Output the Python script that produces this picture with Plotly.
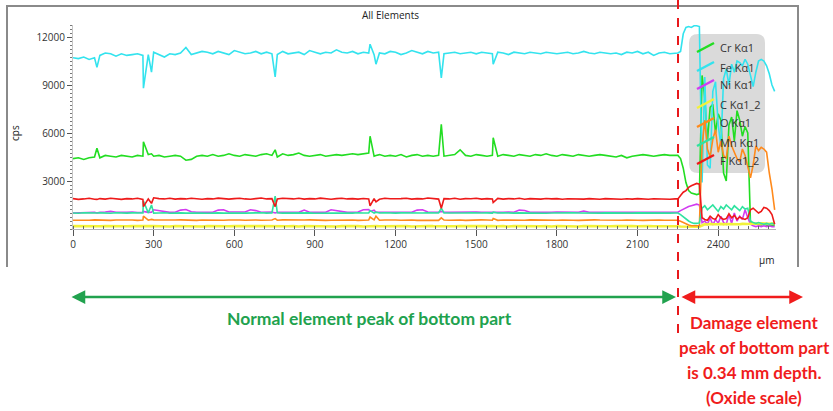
import plotly.graph_objects as go

W, H = 833, 411

# ---------------- data ----------------
SERIES = ["Cr Kα1", "Fe Kα1", "Ni Kα1", "C Kα1_2", "O Kα1", "Mn Kα1", "F Kα1_2"]
COLORS = ["#22dd22", "#33e3ee", "#d23cf0", "#f2f23a", "#ff8a1c", "#2fe3a0", "#ee1a1a"]
WIDTHS = [1.6, 1.6, 1.6, 2.6, 1.6, 1.6, 1.6]

NORMAL_STEP = 20          # µm between samples in the normal zone (0 .. 2240)
SPIKE_X = [89, 262, 292, 752, 1105, 1127, 1370, 1563]
DAMAGE_X = [2250, 2260, 2270, 2280, 2290, 2300, 2310, 2320, 2330, 2340,
            2350, 2360, 2370, 2380, 2390, 2400, 2410, 2420, 2430, 2440,
            2450, 2460, 2470, 2480, 2490, 2500, 2510, 2520, 2530, 2540,
            2550, 2560, 2570, 2580, 2590, 2600, 2610]

X_TICKS = [0, 300, 600, 900, 1200, 1500, 1800, 2100, 2400]
Y_TICKS = [3000, 6000, 9000, 12000]

cr_normal = [4400, 4450, 4350, 4450, 4500, 4450, 4600, 4550, 4500, 4600,
             4550, 4500, 4600, 4550, 4650, 4550, 4600, 4500, 4550, 4600,
             4550, 4300, 4350, 4550, 4600, 4550, 4650, 4550, 4600, 4700,
             4600, 4550, 4650, 4600, 4550, 4650, 4700, 4600, 4500, 4700,
             4600, 4650, 4750, 4600, 4550, 4600, 4650, 4550, 4600, 4650,
             4600, 4650, 4700, 4650, 4700, 4750, 4550, 4650, 4550, 4600,
             4550, 4650, 4500, 4600, 4650, 4550, 4600, 4550, 4600, 4550,
             4600, 4650, 4950, 4600, 4550, 4650, 4600, 4550, 4600, 4550,
             4650, 4600, 4550, 4650, 4600, 4550, 4650, 4600, 4700, 4600,
             4550, 4650, 4600, 4550, 4650, 4600, 4550, 4600, 4650, 4600,
             4550, 4500, 4600, 4450, 4550, 4600, 4650, 4600, 4550, 4600,
             4650, 4600, 4600]
cr_spikes = [5050, 5450, 4700, 4950, 5800, 4600, 6550, 5700]
cr_damage = [4600, 4400, 3800, 2900, 2400, 2250, 2200, 2150, 2200, 9600,
             8200, 5500, 7600, 7800, 6000, 7200, 6800, 3500, 3000, 6500,
             7000, 5500, 7400, 6800, 5800, 6400, 6000, 400, 350, 300,
             300, 250, 300, 250, 200, 250, 200]

fe_normal = [10700, 10650, 10750, 10600, 10700, 10850, 11000, 10950, 10800, 10950,
             10850, 10900, 10950, 10850, 10900, 11050, 10900, 10750, 10950, 10900,
             11000, 11350, 10900, 11000, 11100, 11050, 10950, 11100, 11000, 10900,
             11150, 11050, 10950, 11000, 11100, 10950, 11050, 10950, 10900, 11100,
             10950, 11000, 11050, 10900, 11150, 11050, 10950, 11050, 11000, 11200,
             11050, 11000, 11100, 10950, 11050, 11000, 10900, 11000, 10950, 11100,
             11050, 10900, 11000, 11150, 11050, 10950, 11100, 11000, 11050, 10950,
             11000, 11050, 10950, 11000, 11050, 10950, 11050, 11000, 10950, 11050,
             11000, 10900, 11050, 11000, 10950, 11050, 11000, 10950, 11050, 11000,
             10950, 11000, 11050, 10950, 11000, 11100, 11000, 10950, 11050, 11000,
             10950, 11000, 10900, 11050, 11000, 11100, 10950, 11050, 10850, 11000,
             11050, 10950, 11000]
fe_spikes = [10100, 8800, 9800, 9500, 11550, 10300, 9450, 10300]
fe_damage = [11000, 11100, 12200, 12600, 12650, 12600, 12700, 12700, 12650, 2900,
             9500, 4000, 3800, 8600, 9200, 6500, 5200, 9400, 10000, 9000,
             10300, 9800, 10500, 10400, 10200, 10600, 10300, 9600, 8900, 9800,
             10500, 10600, 10500, 10200, 9700, 9000, 8600]

ni_normal = [1000, 1020, 1040, 1030, 1050, 1040, 1060, 1100, 1050, 1030,
             1040, 1060, 1030, 1050, 1040, 1200, 1150, 1060, 1040, 1050,
             1180, 1220, 1080, 1050, 1040, 1060, 1050, 1180, 1200, 1060,
             1050, 1040, 1060, 1200, 1150, 1050, 1040, 1060, 1050, 1040,
             1050, 1060, 1040, 1180, 1050, 1040, 1060, 1050, 1200, 1150,
             1060, 1040, 1050, 1060, 1200, 1220, 1180, 1050, 1040, 1060,
             1050, 1040, 1060, 1050, 1180, 1200, 1060, 1040, 1050, 1060,
             1040, 1050, 1060, 1050, 1040, 1060, 1050, 1040, 1060, 1050,
             1040, 1060, 1050, 1180, 1160, 1050, 1040, 1060, 1050, 1040,
             1060, 1050, 1040, 1060, 1050, 1120, 1050, 1040, 1060, 1050,
             1040, 1060, 1050, 1040, 1060, 1050, 1040, 1060, 1050, 1040,
             1060, 1050, 1040]
ni_spikes = [1000, 1100, 1050, 1000, 1100, 1050, 1100, 1050]
ni_damage = [1050, 1150, 1250, 1350, 1400, 1450, 1500, 1550, 1500, 400,
             500, 300, 700, 250, 600, 350, 800, 400, 300, 900,
             350, 1000, 500, 800, 600, 1200, 700, 300, 200, 150,
             200, 150, 200, 150, 200, 150, 150]

c_normal = [180, 170, 190, 160, 180, 170, 190, 180, 170, 180,
            170, 190, 180, 160, 180, 190, 170, 180, 160, 190,
            180, 170, 190, 180, 160, 180, 170, 190, 180, 170,
            190, 180, 170, 160, 180, 190, 180, 170, 190, 180,
            170, 180, 160, 190, 180, 170, 180, 190, 170, 160,
            180, 190, 170, 180, 160, 180, 190, 170, 180, 190,
            170, 180, 190, 160, 180, 170, 190, 180, 170, 180,
            190, 170, 180, 160, 180, 190, 170, 180, 190, 170,
            180, 160, 190, 180, 170, 180, 190, 170, 180, 160,
            190, 180, 170, 180, 160, 190, 180, 170, 190, 180,
            170, 180, 190, 160, 180, 170, 190, 180, 170, 180,
            170, 180, 170]
c_spikes = [170, 200, 180, 170, 180, 190, 200, 180]
c_damage = [170, 160, 150, 140, 130, 120, 130, 140, 150, 250,
            300, 280, 320, 300, 280, 300, 320, 290, 310, 300,
            320, 300, 280, 300, 320, 300, 310, 330, 350, 340,
            350, 360, 340, 350, 330, 340, 320]

o_normal = [550, 540, 560, 550, 570, 560, 550, 540, 560, 570,
            550, 560, 540, 560, 550, 570, 560, 550, 540, 560,
            570, 550, 560, 540, 560, 550, 570, 560, 550, 560,
            540, 560, 550, 570, 560, 550, 540, 560, 550, 570,
            560, 550, 540, 560, 570, 550, 560, 540, 550, 560,
            570, 550, 560, 540, 550, 560, 570, 550, 560, 540,
            560, 550, 570, 560, 540, 550, 560, 550, 540, 560,
            550, 570, 560, 540, 560, 550, 570, 560, 550, 540,
            560, 550, 540, 560, 550, 570, 560, 540, 550, 560,
            550, 560, 570, 550, 540, 560, 550, 570, 560, 550,
            540, 560, 550, 560, 570, 550, 540, 560, 550, 560,
            550, 560, 550]
o_spikes = [560, 800, 600, 650, 750, 800, 700, 650]
o_damage = [550, 480, 400, 300, 250, 200, 200, 180, 200, 5200,
            6800, 5000, 4500, 5600, 6200, 4800, 5500, 4600, 4400, 5800,
            5200, 4800, 4400, 4200, 5000, 4600, 3800, 3200, 4000, 5200,
            4900, 5100, 5000, 4800, 3500, 2500, 1200]

mn_normal = [1000, 980, 1020, 1000, 990, 1010, 1000, 980, 1020, 1000,
             990, 1010, 1020, 1000, 1010, 990, 1000, 1020, 980, 1000,
             1010, 990, 1000, 1020, 1000, 980, 1000, 1010, 990, 1000,
             1020, 1000, 990, 1010, 1000, 1020, 990, 1000, 1010, 990,
             1000, 1020, 990, 1000, 1010, 980, 1000, 1020, 1000, 990,
             1010, 1000, 990, 1020, 1000, 1010, 990, 1000, 1020, 1000,
             990, 1010, 1000, 980, 1010, 1000, 1020, 990, 1000, 1010,
             1000, 990, 1010, 1000, 1020, 990, 1000, 1010, 990, 1000,
             1020, 1000, 990, 1010, 1000, 990, 1010, 1000, 980, 1000,
             1010, 990, 1000, 1020, 1000, 990, 1010, 1000, 990, 1010,
             1000, 990, 1010, 1000, 990, 1010, 1000, 990, 1000, 1010,
             1000, 990, 1000]
mn_spikes = [1000, 1750, 1500, 2050, 1150, 1050, 1300, 1050]
mn_damage = [1000, 900, 750, 600, 500, 400, 350, 350, 380, 1300,
             1450, 1200, 1350, 1500, 1300, 1100, 1400, 1250, 1500, 1350,
             1200, 1450, 1300, 1150, 1400, 1250, 1300, 500, 400, 350,
             400, 350, 300, 350, 300, 350, 300]

f_normal = [1900, 1850, 1880, 1920, 1860, 1900, 1870, 1920, 1880, 1850,
            1900, 1880, 1920, 1850, 1880, 1950, 1900, 1880, 1920, 1870,
            1900, 1880, 1920, 1900, 1860, 1900, 1880, 1930, 1900, 1870,
            1900, 1920, 1880, 1860, 1900, 1940, 1880, 1900, 1870, 1920,
            1900, 1880, 1920, 1870, 1900, 1880, 1930, 1900, 1860, 1900,
            1920, 1880, 1900, 1870, 1910, 1880, 1900, 1860, 1920, 1890,
            1880, 1900, 1920, 1870, 1900, 1880, 1940, 1900, 1870, 1900,
            1880, 1920, 1860, 1900, 1890, 1920, 1870, 1900, 1880, 1910,
            1870, 1900, 1880, 1920, 1860, 1900, 1890, 1870, 1910, 1880,
            1900, 1860, 1890, 1880, 1910, 1870, 1900, 1880, 1860, 1900,
            1880, 1900, 1860, 1890, 1870, 1900, 1880, 1860, 1890, 1870,
            1880, 1860, 1880]
f_spikes = [1850, 1400, 1600, 1400, 1450, 1700, 1300, 1650]
f_damage = [1880, 2100, 2300, 2400, 2600, 2700, 2800, 2850, 2800, 700,
            600, 550, 800, 650, 600, 900, 700, 600, 650, 950,
            700, 850, 600, 750, 650, 600, 700, 1200, 1300, 1150,
            1000, 1100, 1350, 1300, 1150, 900, 300]

SERIES_DATA = [
    (cr_normal, cr_spikes, cr_damage),
    (fe_normal, fe_spikes, fe_damage),
    (ni_normal, ni_spikes, ni_damage),
    (c_normal, c_spikes, c_damage),
    (o_normal, o_spikes, o_damage),
    (mn_normal, mn_spikes, mn_damage),
    (f_normal, f_spikes, f_damage),
]


def assemble(normal, spikes, damage):
    pts = [(i * NORMAL_STEP, v) for i, v in enumerate(normal)]
    pts += list(zip(SPIKE_X, spikes))
    pts += list(zip(DAMAGE_X, damage))
    pts.sort(key=lambda p: p[0])
    return [p[0] for p in pts], [p[1] for p in pts]


def px(x):
    return x / W


def py(y):
    return 1 - y / H


fig = go.Figure()
for name, color, lw, (nrm, spk, dmg) in zip(SERIES, COLORS, WIDTHS, SERIES_DATA):
    xs, ys = assemble(nrm, spk, dmg)
    fig.add_trace(go.Scatter(x=xs, y=ys, mode="lines", name=name,
                             line=dict(color=color, width=lw),
                             showlegend=False, hoverinfo="skip"))

FONT = "Open Sans"
shapes = []
annotations = []


def label(x, y, text, size, color, family=FONT, xanchor="center", angle=0):
    annotations.append(dict(x=px(x), y=py(y), xref="paper", yref="paper", text=text,
                            showarrow=False, xanchor=xanchor, yanchor="middle", textangle=angle,
                            font=dict(family=family, size=size, color=color)))


# chart frame (left, top, right)
shapes.append(dict(type="path", xref="paper", yref="paper",
                   path=f"M {px(7)},{py(267)} L {px(7)},{py(6)} L {px(798)},{py(6)} L {px(798)},{py(267)}",
                   line=dict(color="#8a8a8a", width=2)))

# rounded legend box
lx0, lx1, ly0, ly1, r = 689, 765, 34, 173, 9
path = (f"M {px(lx0 + r)},{py(ly0)} L {px(lx1 - r)},{py(ly0)} "
        f"Q {px(lx1)},{py(ly0)} {px(lx1)},{py(ly0 + r)} "
        f"L {px(lx1)},{py(ly1 - r)} Q {px(lx1)},{py(ly1)} {px(lx1 - r)},{py(ly1)} "
        f"L {px(lx0 + r)},{py(ly1)} Q {px(lx0)},{py(ly1)} {px(lx0)},{py(ly1 - r)} "
        f"L {px(lx0)},{py(ly0 + r)} Q {px(lx0)},{py(ly0)} {px(lx0 + r)},{py(ly0)} Z")
shapes.append(dict(type="path", xref="paper", yref="paper", path=path, layer="below",
                   fillcolor="#dadada", line=dict(width=0)))

LEG_Y = [48, 67, 85, 104, 123, 142, 160]
for name, color, yc in zip(SERIES, COLORS, LEG_Y):
    shapes.append(dict(type="line", xref="paper", yref="paper",
                       x0=px(697), y0=py(yc + 4), x1=px(714), y1=py(yc - 5),
                       line=dict(color=color, width=2.5)))
    label(718, yc, name, 11, "#333333", xanchor="left")

# red dashed divider
shapes.append(dict(type="line", xref="paper", yref="paper",
                   x0=px(678), x1=px(678), y0=py(0), y1=py(335),
                   line=dict(color="#e8191c", width=2, dash="dash")))

# titles
label(390, 15, "All Elements", 10, "#222")
label(15, 133, "cps", 10, "#222", angle=-90)
label(766, 260, "µm", 10, "#222")

# arrows
GREEN = "#21a24e"
RED = "#f01c1c"
annotations.append(dict(x=px(676), y=py(297), xref="paper", yref="paper", text="",
                        showarrow=True, ax=70 - 676, ay=0, arrowhead=2, arrowside="end+start",
                        arrowsize=1.1, arrowwidth=2.5, arrowcolor=GREEN, standoff=0, startstandoff=0))
annotations.append(dict(x=px(803), y=py(297), xref="paper", yref="paper", text="",
                        showarrow=True, ax=680 - 803, ay=0, arrowhead=2, arrowside="end+start",
                        arrowsize=1.1, arrowwidth=2.5, arrowcolor=RED, standoff=0, startstandoff=0))

label(369, 318, "<b>Normal element peak of bottom part</b>", 17.5, GREEN, family="Lato")
for txt, yy in zip(["Damage element", "peak of bottom part", "is 0.34 mm depth.", "(Oxide scale)"],
                   [322, 347, 372, 397]):
    label(754, yy, f"<b>{txt}</b>", 17, RED, family="Lato")

fig.update_layout(
    width=W, height=H, margin=dict(l=0, r=0, t=0, b=0, autoexpand=False),
    paper_bgcolor="white", plot_bgcolor="rgba(0,0,0,0)", showlegend=False,
    xaxis=dict(domain=[px(73), px(776)], range=[0, 2615], tickvals=X_TICKS,
               ticks="outside", ticklen=6, tickcolor="#555", tickwidth=1,
               showgrid=False, zeroline=False, showline=True, linecolor="#b5b5b5", linewidth=1,
               tickfont=dict(family=FONT, size=10, color="#333"), automargin=False,
               minor=dict(dtick=37.5, tick0=0, ticks="inside", ticklen=3, tickcolor="#666",
                          showgrid=False)),
    yaxis=dict(domain=[py(229), py(25)], range=[0, 12750], tickvals=Y_TICKS, tickformat="d",
               ticks="outside", ticklen=5, tickcolor="#555", tickwidth=1,
               showgrid=False, zeroline=False, showline=True, linecolor="#c5c5c5", linewidth=1,
               tickfont=dict(family=FONT, size=10, color="#333"), automargin=False,
               minor=dict(dtick=250, tick0=0, ticks="outside", ticklen=2, tickcolor="#777",
                          showgrid=False)),
    shapes=shapes, annotations=annotations,
)

fig.write_html("out.html", config={"displayModeBar": False},
               post_script="document.body.style.margin='0';document.body.style.overflow='hidden';")
